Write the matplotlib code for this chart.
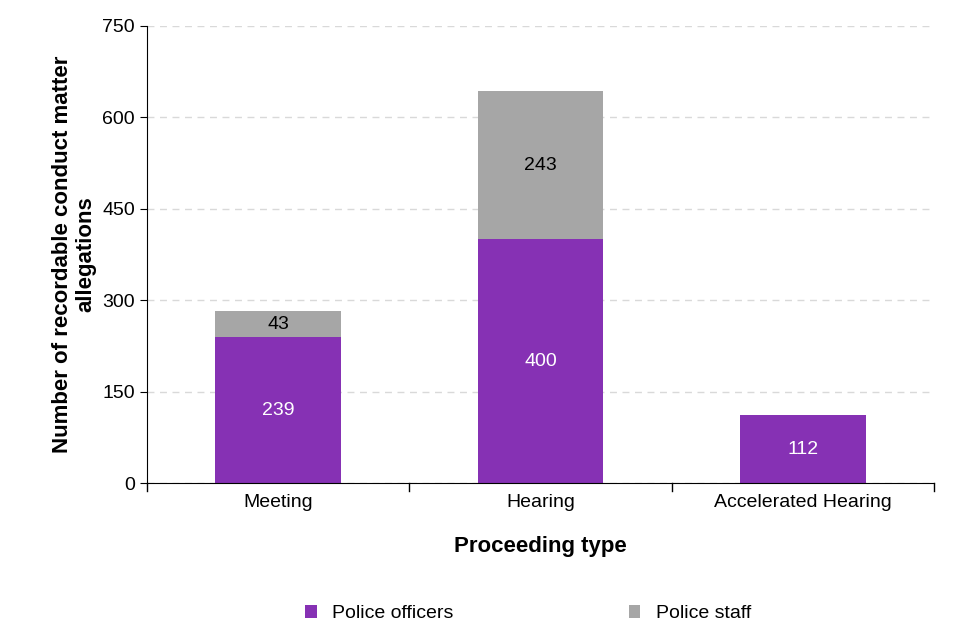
import matplotlib
matplotlib.use("Agg")
import matplotlib.pyplot as plt

categories = ["Meeting", "Hearing", "Accelerated Hearing"]
officers = [239, 400, 112]
staff = [43, 243, 0]
yticks = [0, 150, 300, 450, 600, 750]

plt.rcParams["font.family"] = "Liberation Sans"
fig = plt.figure(figsize=(9.6, 6.4), dpi=100)
ax = fig.add_axes([0.153, 0.245, 0.82, 0.715])
purple = "#8631B4"
grey = "#A6A6A6"
x = range(len(categories))
b1 = ax.bar(x, officers, width=0.48, color=purple, label="Police officers")
b2 = ax.bar(x, staff, width=0.48, bottom=officers, color=grey, label="Police staff")
for i, (o, s) in enumerate(zip(officers, staff)):
    ax.text(i, o / 2, str(o), ha="center", va="center", color="white", fontsize=14)
    if s:
        ax.text(i, o + s / 2, str(s), ha="center", va="center", color="black", fontsize=14)
ax.set_xlim(-0.5, 2.5)
ax.set_ylim(0, 750)
ax.set_yticks(yticks)
ax.set_xticks(list(x))
ax.set_xticklabels(categories)
ax.tick_params(labelsize=14, length=5, color="black")
ax.tick_params(axis="x", length=0, pad=8)
ax.yaxis.grid(True, linestyle=(0, (5, 4)), color="#D9D9D9", linewidth=1)
ax.set_axisbelow(True)
for sp in ["top", "right"]:
    ax.spines[sp].set_visible(False)
ax.set_ylabel("Number of recordable conduct matter\nallegations", fontsize=16, fontweight="bold")
ax.set_xlabel("Proceeding type", fontsize=16, fontweight="bold", labelpad=18)
for xt in [-0.5, 0.5, 1.5, 2.5]:
    ax.plot([xt, xt], [0, -12], color="black", lw=1, clip_on=False)
fig.legend(handles=[b1, b2], loc="lower center", bbox_to_anchor=(0.55, 0.0), ncol=2,
           frameon=False, fontsize=14, handlelength=0.6, handleheight=0.6, columnspacing=9)
fig.savefig("out.png")
